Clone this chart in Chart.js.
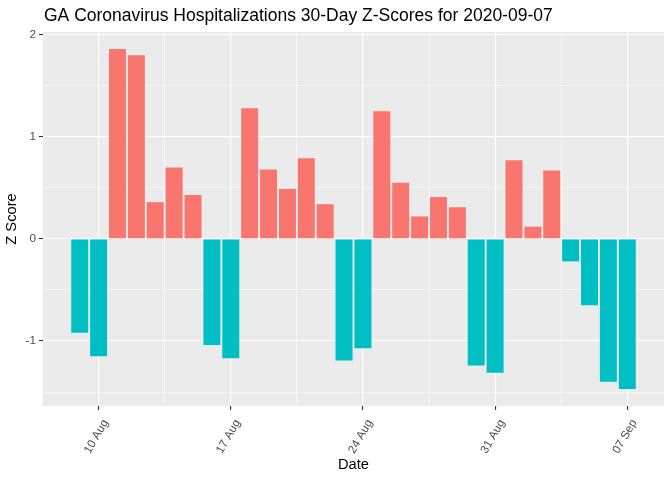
<!DOCTYPE html>
<html>
<head>
<meta charset="utf-8">
<script src="https://cdn.jsdelivr.net/npm/chart.js@4.4.1/dist/chart.umd.min.js"></script>
<style>
  body { margin: 0; background: #fff; }
  canvas { display: block; }
</style>
</head>
<body>
<canvas id="zChart" width="672" height="480"></canvas>
<script>
// Days shown (30-day window ending 2020-09-07)
const dates = [
  '2020-08-09', '2020-08-10', '2020-08-11', '2020-08-12', '2020-08-13', '2020-08-14', '2020-08-15',
  '2020-08-16', '2020-08-17', '2020-08-18', '2020-08-19', '2020-08-20', '2020-08-21', '2020-08-22',
  '2020-08-23', '2020-08-24', '2020-08-25', '2020-08-26', '2020-08-27', '2020-08-28', '2020-08-29',
  '2020-08-30', '2020-08-31', '2020-09-01', '2020-09-02', '2020-09-03', '2020-09-04', '2020-09-05',
  '2020-09-06', '2020-09-07'
];
const zScores = [
  -0.92, -1.15, 1.86, 1.80, 0.36, 0.70, 0.43,
  -1.04, -1.17, 1.28, 0.68, 0.49, 0.79, 0.34,
  -1.19, -1.07, 1.25, 0.55, 0.22, 0.41, 0.31,
  -1.24, -1.31, 0.77, 0.12, 0.67, -0.22, -0.65,
  -1.40, -1.47
];
const tickDates = ['2020-08-10', '2020-08-17', '2020-08-24', '2020-08-31', '2020-09-07'];
const tickLabels = ['10 Aug', '17 Aug', '24 Aug', '31 Aug', '07 Sep'];
const yTicks = [-1.5, -1, -0.5, 0, 0.5, 1, 1.5, 2];

const POS = '#F8766D';
const NEG = '#00BFC4';
const FONT = 'Liberation Sans, Arial, sans-serif';

const majorX = tickDates.map(d => dates.indexOf(d));
// minor grid halfway between majors
const xGrid = [];
majorX.forEach((v, i) => {
  xGrid.push(v);
  if (i < majorX.length - 1) xGrid.push((v + majorX[i + 1]) / 2);
});
xGrid.unshift(majorX[0] - (majorX[1] - majorX[0]) / 2);

// ggplot-style expansion
const xMin = -0.45 - 0.05 * (dates.length - 0.1);
const xMax = dates.length - 1 + 0.45 + 0.05 * (dates.length - 0.1);
const zMin = Math.min(...zScores), zMax = Math.max(...zScores);
const yMin = zMin - 0.05 * (zMax - zMin);
const yMax = zMax + 0.05 * (zMax - zMin);

const panelPlugin = {
  id: 'panel',
  beforeDraw(chart) {
    const { ctx, chartArea: a } = chart;
    ctx.save();
    ctx.fillStyle = '#fff';
    ctx.fillRect(0, 0, chart.width, chart.height);
    ctx.fillStyle = '#EBEBEB';
    ctx.fillRect(a.left, a.top, a.right - a.left, a.bottom - a.top);
    ctx.restore();
  },
  afterDraw(chart) {
    const { ctx, chartArea: a } = chart;
    ctx.save();
    ctx.fillStyle = '#000';
    ctx.font = '17.5px ' + FONT;
    ctx.textBaseline = 'alphabetic';
    ctx.fillText('GA Coronavirus Hospitalizations 30-Day Z-Scores for 2020-09-07', a.left + 1, 21);
    ctx.restore();
  }
};

const isMajorX = v => majorX.includes(v);
const isMajorY = v => Number.isInteger(v);

new Chart(document.getElementById('zChart').getContext('2d'), {
  type: 'bar',
  data: {
    datasets: [{
      data: zScores.map((z, i) => ({ x: i, y: z })),
      backgroundColor: zScores.map(z => z >= 0 ? POS : NEG),
      borderWidth: 0,
      barPercentage: 0.9,
      categoryPercentage: 1.0
    }]
  },
  options: {
    responsive: false,
    animation: false,
    devicePixelRatio: 1,
    layout: { padding: { top: 32, right: 8, left: 0, bottom: 0 } },
    plugins: { legend: { display: false }, title: { display: false }, tooltip: { enabled: false } },
    scales: {
      x: {
        type: 'linear',
        min: xMin,
        max: xMax,
        offset: false,
        border: { display: false },
        afterBuildTicks: s => { s.ticks = xGrid.filter(v => v >= xMin && v <= xMax).map(v => ({ value: v })); },
        afterFit: s => { s.height = 74; },
        grid: {
          offset: false,
          color: '#FFFFFF',
          lineWidth: c => isMajorX(c.tick.value) ? 1.1 : 0.55,
          tickColor: c => isMajorX(c.tick.value) ? '#333333' : 'rgba(0,0,0,0)',
          tickLength: 4,
          tickWidth: 1.1
        },
        ticks: {
          autoSkip: false,
          minRotation: 60,
          maxRotation: 60,
          padding: 7,
          labelOffset: 7,
          color: '#4D4D4D',
          font: { family: FONT, size: 11.7 },
          callback: v => { const k = majorX.indexOf(v); return k >= 0 ? tickLabels[k] : ''; }
        },
        title: {
          display: true,
          text: 'Date',
          color: '#000',
          font: { family: FONT, size: 14.7 },
          padding: { top: 0, bottom: 6 }
        }
      },
      y: {
        min: yMin,
        max: yMax,
        border: { display: false },
        afterBuildTicks: s => { s.ticks = yTicks.filter(v => v >= yMin && v <= yMax).map(v => ({ value: v })); },
        afterFit: s => { s.width = 43; },
        grid: {
          color: '#FFFFFF',
          lineWidth: c => isMajorY(c.tick.value) ? 1.1 : 0.55,
          tickColor: c => isMajorY(c.tick.value) ? '#333333' : 'rgba(0,0,0,0)',
          tickLength: 4,
          tickWidth: 1.1
        },
        ticks: {
          padding: 3,
          color: '#4D4D4D',
          font: { family: FONT, size: 11.7 },
          callback: v => isMajorY(v) ? String(v) : ''
        },
        title: {
          display: true,
          text: 'Z Score',
          color: '#000',
          font: { family: FONT, size: 14.7 },
          padding: { top: 3, bottom: 0 }
        }
      }
    }
  },
  plugins: [panelPlugin]
});
</script>
</body>
</html>
